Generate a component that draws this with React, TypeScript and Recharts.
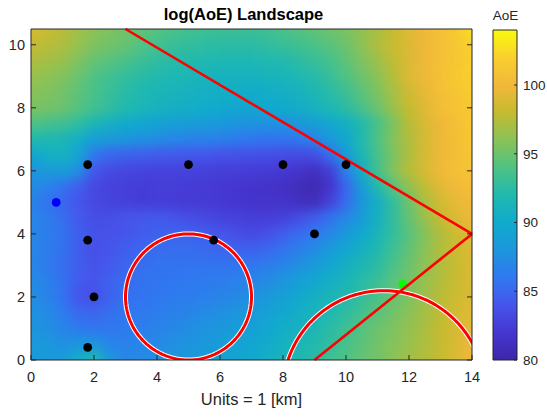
import React from 'react';
import {
  ComposedChart,
  Scatter,
  Line,
  XAxis,
  YAxis,
  ReferenceLine,
  ReferenceArea,
} from 'recharts';

// ---- axes ----
const X_TICKS = [0, 2, 4, 6, 8, 10, 12, 14];
const Y_TICKS = [0, 2, 4, 6, 8, 10];
const X_DOMAIN: [number, number] = [0, 14];
const Y_DOMAIN: [number, number] = [0, 10.5];
const CBAR_TICKS = [80, 85, 90, 95, 100];
const CBAR_DOMAIN: [number, number] = [80, 104];

// ---- AoE landscape samples on a 0.5 km grid, one array per row ----
const GRID_X = [
  0, 0.5, 1, 1.5, 2, 2.5, 3, 3.5, 4, 4.5, 5, 5.5, 6, 6.5, 7,
  7.5, 8, 8.5, 9, 9.5, 10, 10.5, 11, 11.5, 12, 12.5, 13, 13.5, 14,
];
const AOE_Y10_5 = [99.0, 98.3, 97.6, 96.8, 96.1, 95.6, 95.1, 94.6, 94.2, 93.8, 93.5, 93.3, 93.2, 93.2, 93.2, 93.4, 93.8, 94.2, 94.6, 95.0, 95.5, 96.2, 97.0, 98.0, 99.2, 100.0, 100.7, 101.4, 102.8];
const AOE_Y10 = [98.0, 97.6, 97.2, 96.4, 95.6, 95.2, 94.8, 94.1, 93.5, 93.1, 92.8, 92.6, 92.5, 92.5, 92.5, 92.7, 93.0, 93.4, 93.8, 94.4, 95.0, 96.1, 97.3, 98.2, 99.0, 99.9, 100.7, 101.3, 102.0];
const AOE_Y9_5 = [97.3, 96.9, 96.5, 95.6, 94.8, 94.3, 93.8, 93.2, 92.7, 92.3, 92.1, 91.9, 91.7, 91.7, 91.7, 91.9, 92.1, 92.5, 93.0, 93.6, 94.5, 95.6, 96.6, 97.8, 99.0, 99.9, 100.7, 101.1, 102.0];
const AOE_Y9 = [96.5, 96.1, 95.7, 94.9, 94.0, 93.4, 92.8, 92.4, 92.0, 91.7, 91.5, 91.2, 91.0, 91.0, 91.0, 91.1, 91.3, 91.7, 92.3, 93.0, 94.0, 95.0, 96.0, 97.5, 99.0, 99.9, 100.8, 101.3, 102.0];
const AOE_Y8_5 = [96.0, 95.7, 95.3, 94.5, 93.7, 93.0, 92.4, 91.9, 91.5, 91.2, 91.0, 90.7, 90.5, 90.4, 90.2, 90.4, 90.6, 91.0, 91.6, 92.4, 93.2, 94.4, 95.5, 97.0, 98.5, 99.5, 100.6, 101.0, 101.8];
const AOE_Y8 = [95.5, 95.3, 95.0, 94.2, 93.5, 92.7, 92.0, 91.5, 91.0, 90.7, 90.5, 90.2, 90.0, 89.7, 89.5, 89.7, 90.0, 90.4, 91.0, 91.7, 92.5, 93.7, 95.0, 96.5, 98.0, 99.2, 100.5, 100.9, 101.5];
const AOE_Y7_5 = [94.0, 93.6, 93.3, 92.6, 91.5, 90.7, 90.0, 89.6, 89.3, 89.0, 88.7, 88.5, 88.3, 88.0, 87.8, 87.7, 87.8, 88.2, 88.8, 89.6, 90.6, 92.0, 93.7, 95.5, 97.6, 98.8, 99.9, 100.6, 101.4];
const AOE_Y7 = [92.0, 91.8, 91.5, 90.5, 88.8, 88.4, 88.0, 87.6, 87.3, 87.0, 86.8, 86.6, 86.5, 86.2, 86.0, 85.8, 85.7, 86.0, 87.0, 88.2, 89.8, 92.0, 94.0, 95.8, 97.3, 98.7, 99.8, 100.6, 101.3];
const AOE_Y6_5 = [89.5, 90.5, 91.0, 89.5, 86.0, 85.0, 84.7, 84.5, 84.3, 84.2, 84.0, 84.0, 83.8, 83.7, 83.6, 83.5, 83.4, 83.2, 83.5, 85.5, 88.5, 91.5, 93.6, 95.5, 97.3, 98.7, 99.9, 100.5, 101.1];
const AOE_Y6 = [87.8, 88.4, 88.8, 87.5, 84.0, 83.3, 83.0, 82.9, 82.8, 82.8, 82.8, 82.7, 82.5, 82.5, 82.4, 82.3, 82.1, 81.7, 81.2, 82.5, 86.5, 90.5, 93.5, 95.8, 97.5, 98.8, 100.1, 100.6, 101.0];
const AOE_Y5_5 = [87.3, 86.8, 85.8, 84.5, 83.2, 82.8, 82.6, 82.4, 82.5, 82.5, 82.4, 82.3, 82.2, 82.0, 81.8, 81.6, 81.4, 80.9, 80.5, 81.8, 85.0, 88.6, 92.0, 94.2, 96.2, 97.8, 99.3, 100.0, 100.6];
const AOE_Y5 = [86.8, 85.8, 85.0, 84.0, 83.2, 82.9, 82.7, 82.4, 82.5, 82.4, 82.3, 82.3, 82.2, 82.0, 81.8, 81.7, 81.7, 81.3, 81.0, 82.8, 85.3, 88.0, 90.5, 92.8, 95.0, 97.0, 98.6, 99.5, 100.2];
const AOE_Y4_5 = [87.0, 86.3, 85.5, 84.3, 83.5, 83.6, 84.0, 84.2, 84.3, 84.0, 83.6, 83.2, 82.9, 82.8, 82.6, 82.6, 82.8, 83.5, 84.5, 85.7, 87.0, 88.6, 90.8, 92.8, 94.7, 96.5, 98.0, 99.0, 99.8];
const AOE_Y4 = [87.0, 86.4, 85.7, 84.6, 83.8, 83.8, 84.0, 84.4, 84.7, 84.8, 84.8, 84.5, 84.0, 83.6, 83.3, 83.7, 84.5, 85.3, 86.0, 87.0, 88.3, 89.8, 91.3, 92.8, 94.3, 95.8, 97.3, 98.3, 99.3];
const AOE_Y3_5 = [87.0, 86.3, 85.6, 84.5, 83.6, 84.0, 84.6, 85.0, 85.3, 85.4, 85.4, 85.2, 85.0, 84.8, 84.7, 85.1, 85.7, 86.6, 87.3, 88.5, 89.5, 90.8, 91.9, 93.3, 94.6, 96.0, 97.3, 98.2, 99.1];
const AOE_Y3 = [87.0, 86.2, 85.5, 84.5, 83.8, 84.3, 85.0, 85.4, 85.7, 85.8, 85.8, 85.8, 85.8, 85.9, 86.0, 86.4, 86.8, 87.6, 88.5, 89.6, 90.7, 91.6, 92.5, 93.8, 95.0, 96.1, 97.2, 98.1, 99.0];
const AOE_Y2_5 = [87.3, 86.6, 85.7, 84.3, 84.0, 84.8, 85.3, 85.7, 85.8, 86.0, 86.1, 86.2, 86.3, 86.6, 86.8, 87.3, 87.9, 88.8, 89.7, 90.6, 91.4, 92.3, 93.2, 94.3, 95.3, 96.4, 97.4, 98.2, 99.0];
const AOE_Y2 = [87.5, 86.8, 85.8, 84.0, 83.6, 84.8, 85.6, 85.8, 86.0, 86.2, 86.3, 86.5, 86.8, 87.1, 87.5, 88.2, 89.0, 89.9, 90.8, 91.4, 92.0, 92.9, 93.8, 94.7, 95.6, 96.6, 97.6, 98.3, 99.0];
const AOE_Y1_5 = [87.8, 87.2, 86.3, 85.2, 85.0, 85.5, 85.9, 86.1, 86.3, 86.6, 86.8, 87.1, 87.5, 87.9, 88.3, 89.0, 89.7, 90.5, 91.2, 91.9, 92.6, 93.5, 94.4, 95.2, 96.0, 96.9, 97.8, 98.6, 99.3];
const AOE_Y1 = [88.0, 87.5, 86.8, 86.2, 85.9, 86.0, 86.2, 86.4, 86.7, 87.0, 87.4, 87.8, 88.2, 88.6, 89.0, 89.7, 90.4, 91.0, 91.6, 92.4, 93.3, 94.2, 95.0, 95.6, 96.3, 97.1, 98.0, 98.8, 99.5];
const AOE_Y0_5 = [88.3, 88.0, 87.6, 88.0, 88.0, 86.8, 86.6, 86.9, 87.1, 87.5, 87.8, 88.2, 88.6, 89.1, 89.5, 90.2, 90.8, 91.4, 92.0, 92.9, 93.6, 94.4, 95.2, 95.8, 96.5, 97.2, 98.0, 98.9, 99.7];
const AOE_Y0 = [88.5, 88.5, 88.5, 90.5, 92.0, 88.0, 87.0, 87.2, 87.5, 87.9, 88.2, 88.6, 89.0, 89.5, 90.0, 90.6, 91.2, 91.8, 92.5, 93.3, 94.0, 94.7, 95.3, 96.0, 96.8, 97.4, 98.0, 99.0, 100.0];

const AOE_ROWS: [number, number[]][] = [
  [10.5, AOE_Y10_5], [10, AOE_Y10], [9.5, AOE_Y9_5], [9, AOE_Y9], [8.5, AOE_Y8_5], [8, AOE_Y8],
  [7.5, AOE_Y7_5], [7, AOE_Y7], [6.5, AOE_Y6_5], [6, AOE_Y6], [5.5, AOE_Y5_5], [5, AOE_Y5],
  [4.5, AOE_Y4_5], [4, AOE_Y4], [3.5, AOE_Y3_5], [3, AOE_Y3], [2.5, AOE_Y2_5], [2, AOE_Y2],
  [1.5, AOE_Y1_5], [1, AOE_Y1], [0.5, AOE_Y0_5], [0, AOE_Y0],
];
const GRID_STEP = 0.5;

// ---- markers ----
const SENSORS = [
  { x: 1.8, y: 6.2 }, { x: 5, y: 6.2 }, { x: 8, y: 6.2 }, { x: 10, y: 6.2 },
  { x: 1.8, y: 3.8 }, { x: 5.8, y: 3.8 }, { x: 9, y: 4 }, { x: 2, y: 2 }, { x: 1.8, y: 0.4 },
];
const BLUE_POINT = [{ x: 0.8, y: 5 }];
const GREEN_POINT = [{ x: 11.8, y: 2.4 }];

// ---- boundaries and zones ----
const BOUNDARY_A = [{ x: 3, y: 10.5 }, { x: 14, y: 4 }];
const BOUNDARY_B = [{ x: 9, y: 0 }, { x: 14, y: 4 }];
const ZONE_1 = { cx: 5, cy: 2, r: 2 };
const ZONE_2 = { cx: 11.2, cy: -1, r: 3.2 };

// ---- parula-like colour map ----
const PARULA: [number, string][] = [
  [0.0, '#3e26a8'],
  [0.083, '#4536d0'],
  [0.167, '#4655ec'],
  [0.25, '#3078f0'],
  [0.333, '#1c96dc'],
  [0.417, '#10aacd'],
  [0.5, '#20b9ae'],
  [0.583, '#4fc284'],
  [0.667, '#8ac257'],
  [0.75, '#c5bb30'],
  [0.833, '#f1b83a'],
  [0.917, '#f9cf2e'],
  [1.0, '#f9fb0e'],
];

const hexToRgb = (h: string) => [1, 3, 5].map((i) => parseInt(h.slice(i, i + 2), 16));

function parula(v: number): string {
  const t = Math.min(1, Math.max(0, (v - CBAR_DOMAIN[0]) / (CBAR_DOMAIN[1] - CBAR_DOMAIN[0])));
  for (let i = 1; i < PARULA.length; i++) {
    const [t1, c1] = PARULA[i];
    const [t0, c0] = PARULA[i - 1];
    if (t <= t1) {
      const f = (t - t0) / (t1 - t0);
      const a = hexToRgb(c0);
      const b = hexToRgb(c1);
      const rgb = a.map((c, k) => Math.round(c + (b[k] - c) * f));
      return `rgb(${rgb[0]},${rgb[1]},${rgb[2]})`;
    }
  }
  return PARULA[PARULA.length - 1][1];
}

// ---- layout (page is 547 x 417, drawing offset by 8px) ----
const PAGE_W = 547;
const PAGE_H = 417;
const OFFSET = 8;
const CHART_W = 480;
const CHART_H = 401;
const MARGIN = { top: 20, right: 15, bottom: 4, left: 0 };
const Y_AXIS_W = 23;
const X_AXIS_H = 45;
const EDGE_AXIS = 1; // mirrored top / right axes carrying only tick marks
const PLOT_W = CHART_W - MARGIN.left - MARGIN.right - Y_AXIS_W - EDGE_AXIS;
const PLOT_H = CHART_H - MARGIN.top - MARGIN.bottom - X_AXIS_H - EDGE_AXIS;
const PLOT_BOTTOM = CHART_H - MARGIN.bottom - X_AXIS_H;
const CELL_W = (PLOT_W / (X_DOMAIN[1] - X_DOMAIN[0])) * GRID_STEP;
const CELL_H = (PLOT_H / (Y_DOMAIN[1] - Y_DOMAIN[0])) * GRID_STEP;

const FONT = '"Liberation Sans", Arial, Helvetica, sans-serif';
const INK = '#262626';

const fieldCells = AOE_ROWS.flatMap(([y, row]) =>
  row.map((v, i) => ({ x: GRID_X[i], y, v }))
);

const ring = (z: { cx: number; cy: number; r: number }) =>
  Array.from({ length: 241 }, (_, i) => {
    const a = (i / 240) * Math.PI * 2;
    return { x: z.cx + z.r * Math.cos(a), y: z.cy + z.r * Math.sin(a) };
  });

const FieldCell = (p: any) => (
  <rect
    x={p.cx - CELL_W / 2}
    y={p.cy - CELL_H / 2}
    width={CELL_W + 0.5}
    height={CELL_H + 0.5}
    fill={parula(p.payload.v)}
  />
);

const dot = (fill: string, r: number) => (p: any) =>
  <circle cx={p.cx} cy={p.cy} r={r} fill={fill} />;

const noLabel = () => <g />;

const tickStyle = { fill: INK, fontSize: 14.5, fontFamily: FONT };
const cbarTickStyle = { fill: INK, fontSize: 13.5, fontFamily: FONT };

export default function App() {
  return (
    <div style={{ position: 'relative', width: PAGE_W, height: PAGE_H, fontFamily: FONT, overflow: 'hidden' }}>
      <style>{`html, body { margin: 0; padding: 0; overflow: hidden; } .aoe-field { filter: url(#fieldSmooth); } .cbar .recharts-surface { overflow: visible; }`}</style>
      <svg width={0} height={0} style={{ position: 'absolute' }}>
        <defs>
          <filter id="fieldSmooth" x="-5%" y="-5%" width="110%" height="110%" colorInterpolationFilters="sRGB">
            <feGaussianBlur stdDeviation="6" />
            <feComponentTransfer>
              <feFuncA type="discrete" tableValues="1" />
            </feComponentTransfer>
          </filter>
          <linearGradient id="parulaBar" x1="0" y1="1" x2="0" y2="0">
            {PARULA.map(([t, c]) => (
              <stop key={t} offset={t} stopColor={c} />
            ))}
          </linearGradient>
        </defs>
      </svg>

      <div style={{ position: 'absolute', left: OFFSET, top: OFFSET, width: PAGE_W - OFFSET, height: CHART_H }}>
        <div
          style={{
            position: 'absolute', left: 0, top: -2, width: CHART_W - 9, textAlign: 'center',
            fontSize: 16.5, fontWeight: 'bold', color: '#000', lineHeight: '17px',
          }}
        >
          log(AoE) Landscape
        </div>

        <ComposedChart width={CHART_W} height={CHART_H} margin={MARGIN}>
          <XAxis
            xAxisId={0}
            type="number"
            dataKey="x"
            domain={X_DOMAIN}
            ticks={X_TICKS}
            allowDataOverflow
            height={X_AXIS_H}
            tickSize={-5}
            tickMargin={17}
            stroke={INK}
            tick={tickStyle}
            label={{ value: 'Units = 1 [km]', position: 'insideBottom', offset: 0, fill: INK, fontSize: 16.5, fontFamily: FONT }}
          />
          <XAxis
            xAxisId="top"
            orientation="top"
            type="number"
            domain={X_DOMAIN}
            ticks={X_TICKS}
            allowDataOverflow
            height={EDGE_AXIS}
            tickSize={-5}
            stroke={INK}
            tick={noLabel}
          />
          <YAxis
            yAxisId={0}
            type="number"
            dataKey="y"
            domain={Y_DOMAIN}
            ticks={Y_TICKS}
            allowDataOverflow
            width={Y_AXIS_W}
            tickSize={-5}
            tickMargin={11}
            stroke={INK}
            tick={tickStyle}
          />
          <YAxis
            yAxisId="right"
            orientation="right"
            type="number"
            domain={Y_DOMAIN}
            ticks={Y_TICKS}
            allowDataOverflow
            width={EDGE_AXIS}
            tickSize={-5}
            stroke={INK}
            tick={noLabel}
          />

          <Scatter
            className="aoe-field"
            data={fieldCells}
            shape={FieldCell}
            isAnimationActive={false}
            zIndex={50}
          />

          <Line data={ring(ZONE_1)} dataKey="y" type="linear" stroke="#ffffff" strokeWidth={5} dot={false} activeDot={false} isAnimationActive={false} />
          <Line data={ring(ZONE_1)} dataKey="y" type="linear" stroke="#ff0000" strokeWidth={3} dot={false} activeDot={false} isAnimationActive={false} />
          <Line data={ring(ZONE_2)} dataKey="y" type="linear" stroke="#ffffff" strokeWidth={5} dot={false} activeDot={false} isAnimationActive={false} />
          <Line data={ring(ZONE_2)} dataKey="y" type="linear" stroke="#ff0000" strokeWidth={3} dot={false} activeDot={false} isAnimationActive={false} />

          <Scatter data={GREEN_POINT} shape={dot('#00ff00', 4.3)} isAnimationActive={false} zIndex={420} />

          <ReferenceLine segment={BOUNDARY_A} stroke="#ff0000" strokeWidth={2.6} zIndex={450} />
          <ReferenceLine segment={BOUNDARY_B} stroke="#ff0000" strokeWidth={2.6} zIndex={450} />

          <Scatter data={SENSORS} shape={dot('#000000', 4.4)} isAnimationActive={false} zIndex={600} />
          <Scatter data={BLUE_POINT} shape={dot('#0000ff', 4.4)} isAnimationActive={false} zIndex={600} />
        </ComposedChart>

        <div
          style={{
            position: 'absolute', left: 477.5, top: 1, width: 40, textAlign: 'center',
            fontSize: 13.5, color: INK, lineHeight: '14px',
          }}
        >
          AoE
        </div>

        <div className="cbar" style={{ position: 'absolute', left: 485, top: 0, width: 54 }}>
          <ComposedChart width={54} height={CHART_H} margin={{ top: 22, right: 0, bottom: CHART_H - PLOT_BOTTOM, left: 0 }}>
            <XAxis type="number" dataKey="x" domain={[0, 1]} hide allowDataOverflow />
            <YAxis
              orientation="right"
              type="number"
              dataKey="y"
              domain={CBAR_DOMAIN}
              ticks={CBAR_TICKS}
              allowDataOverflow
              width={30}
              tickSize={0}
              tickMargin={6}
              tickLine={false}
              axisLine={false}
              stroke={INK}
              tick={cbarTickStyle}
            />
            <ReferenceArea
              x1={0}
              x2={1}
              y1={CBAR_DOMAIN[0]}
              y2={CBAR_DOMAIN[1]}
              fill="url(#parulaBar)"
              fillOpacity={1}
              stroke={INK}
              strokeWidth={1}
            />
            {CBAR_TICKS.map((t) => (
              <ReferenceLine
                key={t}
                segment={[{ x: 0.88, y: t }, { x: 1, y: t }]}
                stroke={INK}
                strokeWidth={1}
              />
            ))}
          </ComposedChart>
        </div>
      </div>
    </div>
  );
}
